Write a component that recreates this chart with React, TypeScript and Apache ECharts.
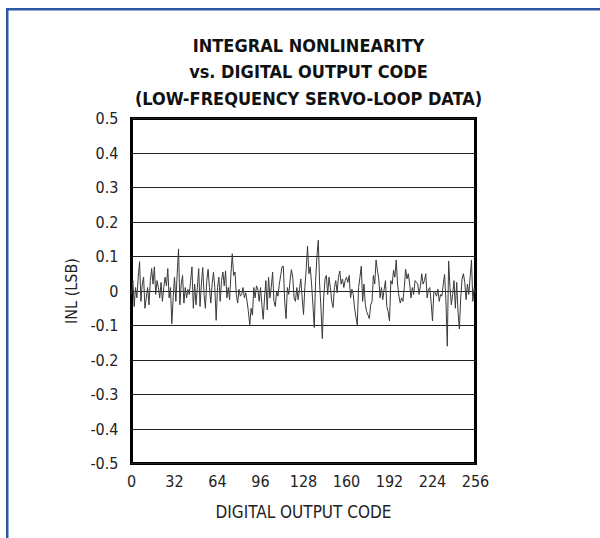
import React, { useEffect, useRef } from "react";
import * as echarts from "echarts";

const titleLines = [
  "INTEGRAL NONLINEARITY",
  "vs. DIGITAL OUTPUT CODE",
  "(LOW-FREQUENCY SERVO-LOOP DATA)",
];
const xAxisName = "DIGITAL OUTPUT CODE";
const yAxisName = "INL (LSB)";
const xTicks = [0, 32, 64, 96, 128, 160, 192, 224, 256];
const yTicks = [-0.5, -0.4, -0.3, -0.2, -0.1, 0, 0.1, 0.2, 0.3, 0.4, 0.5];

// INL (LSB) for codes 0..256
const inl = [
  -0.01, 0.03, -0.045, 0.01, -0.02, 0.04, 0.085, -0.03, 0.02, 0.04, -0.05, -0.02, 0.01, -0.04, 0.03, 0.065,
  0.02, 0.07, -0.01, 0.03, 0.01, -0.02, 0.025, -0.03, 0.01, 0.04, 0.015, 0.065, -0.02, 0.01, -0.095, -0.02,
  0.04, -0.03, 0.05, 0.122, -0.04, 0.02, 0.045, -0.035, 0.01, -0.02, 0.005, -0.01, 0.03, 0.07, -0.05, 0.02,
  -0.04, 0.01, 0.065, -0.045, 0.02, 0.068, -0.01, -0.05, 0.03, 0.063, 0.01, -0.035, 0.02, 0.055, 0.01, -0.085,
  0.01, 0.04, -0.03, 0.03, 0.055, 0.015, 0.058, -0.02, 0.01, -0.025, 0.05, 0.108, 0.045, 0.055, -0.01, -0.035,
  0.005, -0.015, -0.01, 0.01, -0.02, -0.005, -0.03, -0.06, -0.098, -0.05, -0.07, 0.01, -0.02, 0.015, 0.005, -0.03,
  0.01, -0.04, -0.082, -0.02, 0.03, -0.055, 0.04, -0.02, 0.01, 0.055, -0.03, -0.045, 0.0, -0.015, 0.02, 0.045,
  0.07, 0.072, -0.03, -0.08, 0.01, -0.01, 0.03, 0.062, 0.04, -0.02, -0.03, 0.01, -0.025, 0.005, 0.035, -0.02,
  -0.068, 0.01, 0.063, 0.13, 0.05, 0.07, 0.02, -0.04, -0.106, 0.03, 0.1, 0.147, 0.02, -0.05, -0.138, -0.02,
  0.035, 0.045, -0.01, 0.04, 0.01, -0.03, -0.048, 0.01, 0.03, -0.005, 0.04, 0.058, 0.02, 0.035, 0.01, 0.03,
  0.04, 0.025, 0.045, -0.02, 0.005, -0.01, -0.05, -0.075, -0.098, 0.01, 0.04, 0.072, -0.03, 0.02, -0.04, -0.06,
  -0.07, -0.08, -0.04, -0.03, 0.045, 0.02, 0.09, 0.06, 0.035, -0.02, 0.01, -0.025, 0.005, 0.03, -0.045, -0.06,
  -0.087, 0.03, 0.02, 0.06, 0.04, 0.09, 0.02, -0.015, -0.035, -0.02, -0.03, 0.01, 0.063, 0.035, 0.05, 0.02,
  -0.02, 0.01, -0.01, 0.03, 0.025, 0.02, -0.01, 0.015, 0.05, 0.02, 0.03, 0.05, -0.02, 0.005, 0.01, -0.035,
  -0.087, 0.0, -0.005, -0.015, 0.005, -0.03, -0.01, -0.015, 0.02, 0.048, -0.03, -0.16, 0.087, 0.01, -0.04, -0.01,
  0.03, -0.05, 0.025, -0.06, -0.11, -0.02, 0.035, 0.05, 0.025, -0.025, 0.02, -0.01, 0.04, 0.09, -0.03, 0.01,
  -0.005,
];

const FONT = "'Liberation Sans Narrow', 'Arial Narrow', 'DejaVu Sans Condensed', sans-serif";

export default function App() {
  const ref = useRef<HTMLDivElement>(null);
  useEffect(() => {
    if (!ref.current) return;
    const chart = echarts.init(ref.current, null, { renderer: "svg" });
    const gridLeft = 131.5;
    const gridTop = 118.5;
    const gridW = 344;
    const gridH = 345;
    const fmt = (v: number) => String(parseFloat(v.toFixed(1)));
    chart.setOption({
      animation: false,
      backgroundColor: "#ffffff",
      title: {
        text: titleLines.join("\n"),
        left: gridLeft + gridW / 2,
        top: 27,
        textAlign: "center",
        textStyle: {
          fontFamily: FONT,
          fontWeight: "bold",
          fontSize: 18,
          lineHeight: 26.5,
          color: "#111",
        },
      },
      graphic: [
        { type: "rect", shape: { x: 6, y: 8, width: 594, height: 2.5 }, style: { fill: "#2d58a6" }, silent: true },
        { type: "rect", shape: { x: 6, y: 8, width: 2.5, height: 530 }, style: { fill: "#2d58a6" }, silent: true },
      ],
      grid: {
        left: gridLeft,
        top: gridTop,
        width: gridW,
        height: gridH,
        show: true,
        borderColor: "#000",
        borderWidth: 3,
        backgroundColor: "transparent",
      },
      xAxis: {
        type: "value",
        min: xTicks[0],
        max: xTicks[xTicks.length - 1],
        interval: 32,
        name: xAxisName,
        nameLocation: "middle",
        nameGap: 40,
        nameTextStyle: { fontFamily: FONT, fontSize: 17, color: "#222" },
        axisLine: { show: false },
        axisTick: { show: false },
        splitLine: { show: false },
        axisLabel: { fontFamily: FONT, fontSize: 16, color: "#222", margin: 10 },
      },
      yAxis: {
        type: "value",
        min: yTicks[0],
        max: yTicks[yTicks.length - 1],
        interval: 0.1,
        name: yAxisName,
        nameLocation: "middle",
        nameGap: 38,
        nameRotate: 90,
        nameTextStyle: { fontFamily: FONT, fontSize: 16, color: "#222" },
        axisLine: { show: false },
        axisTick: { show: false },
        splitLine: { show: true, lineStyle: { color: "#222", width: 1 } },
        axisLabel: { fontFamily: FONT, fontSize: 16, color: "#222", margin: 13, formatter: fmt },
      },
      series: [
        {
          type: "line",
          data: inl.map((v, i) => [i, v]),
          showSymbol: false,
          symbol: "none",
          lineStyle: { color: "#3a3a3a", width: 1 },
          z: 3,
        },
      ],
    });
    return () => chart.dispose();
  }, []);
  return (
    <div
      ref={ref}
      style={{ position: "absolute", left: 0, top: 0, width: 600, height: 538 }}
    />
  );
}
